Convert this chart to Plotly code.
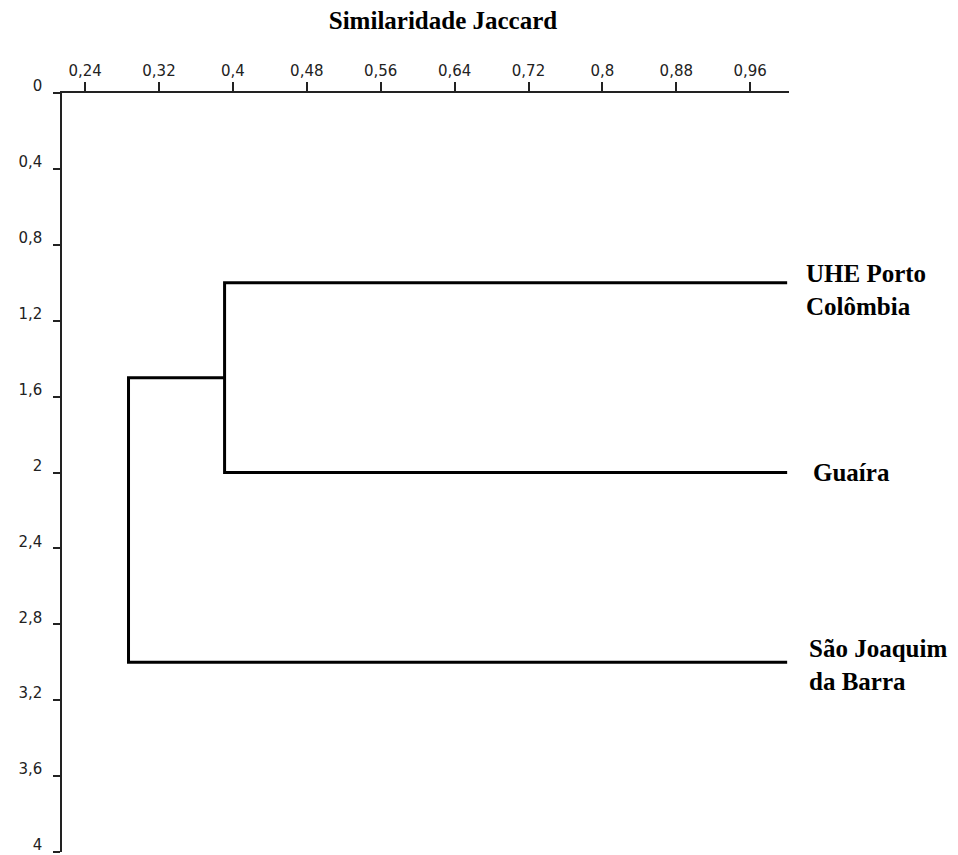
import plotly.graph_objects as go

# ---- data ----
leaf_labels = ["UHE Porto<br>Colômbia", "Guaíra", "São Joaquim<br>da Barra"]
leaf_pos = [1, 2, 3]
leaf_sim = [1.0, 1.0, 1.0]
# merges: child node indices (0..2 leaves, 3.. merges) and similarity level
merge_child_a = [0, 3]
merge_child_b = [1, 2]
merge_sim = [0.391, 0.287]

x_tickvals = [0.24, 0.32, 0.40, 0.48, 0.56, 0.64, 0.72, 0.80, 0.88, 0.96]
x_ticktext = ["0,24", "0,32", "0,4", "0,48", "0,56", "0,64", "0,72", "0,8", "0,88", "0,96"]
y_tickvals = [0, 0.4, 0.8, 1.2, 1.6, 2.0, 2.4, 2.8, 3.2, 3.6, 4.0]
y_ticktext = ["0", "0,4", "0,8", "1,2", "1,6", "2", "2,4", "2,8", "3,2", "3,6", "4"]

title_text = "Similaridade Jaccard"

# ---- build dendrogram path ----
node_pos = list(leaf_pos)
node_sim = list(leaf_sim)
xs, ys = [], []
for a, b, s in zip(merge_child_a, merge_child_b, merge_sim):
    xs += [node_sim[a], s, s, node_sim[b], None]
    ys += [node_pos[a], node_pos[a], node_pos[b], node_pos[b], None]
    node_pos.append((node_pos[a] + node_pos[b]) / 2)
    node_sim.append(s)

fig = go.Figure()
fig.add_trace(go.Scatter(x=xs, y=ys, mode="lines",
                         line=dict(color="black", width=3),
                         hoverinfo="skip", showlegend=False))

label_font = dict(family="Liberation Serif", size=25, color="black", weight="bold")
xshifts = [17, 24, 20]
yshifts = [-7, 0, -3]
for lab, p, s, dx, dy in zip(leaf_labels, leaf_pos, leaf_sim, xshifts, yshifts):
    fig.add_annotation(x=s, y=p, xref="x", yref="y", text=lab, showarrow=False,
                       xanchor="left", yanchor="middle", align="left",
                       xshift=dx, yshift=dy, font=label_font)

fig.update_layout(
    width=958, height=855, autosize=False,
    margin=dict(l=62, r=169, t=93, b=3, pad=0, autoexpand=False),
    paper_bgcolor="white", plot_bgcolor="white",
    title=dict(text=title_text, x=443/958, y=1-20/855, xanchor="center", yanchor="middle",
               xref="container", yref="container",
               font=dict(family="Liberation Serif", size=25, color="black", weight="bold")),
    showlegend=False,
)
fig.update_xaxes(range=[0.215, 1.002], side="top", showgrid=False, zeroline=False,
                 showline=True, linecolor="#222", linewidth=1.5, automargin=False,
                 ticks="outside", ticklen=9, tickwidth=1.5, tickcolor="#222",
                 tickvals=x_tickvals, ticktext=x_ticktext,
                 tickfont=dict(family="DejaVu Sans", size=15, color="#222"),
                 ticklabeloverflow="allow")
fig.update_yaxes(range=[4, 0], showgrid=False, zeroline=False,
                 showline=True, linecolor="#222", linewidth=1.5, automargin=False,
                 ticks="outside", ticklen=7, tickwidth=1.5, tickcolor="#222",
                 tickvals=y_tickvals, ticktext=y_ticktext,
                 tickfont=dict(family="DejaVu Sans", size=15, color="#222"),
                 ticklabelstandoff=8, ticklabelshift=7, ticklabeloverflow="allow")

fig.write_html("out.html")
